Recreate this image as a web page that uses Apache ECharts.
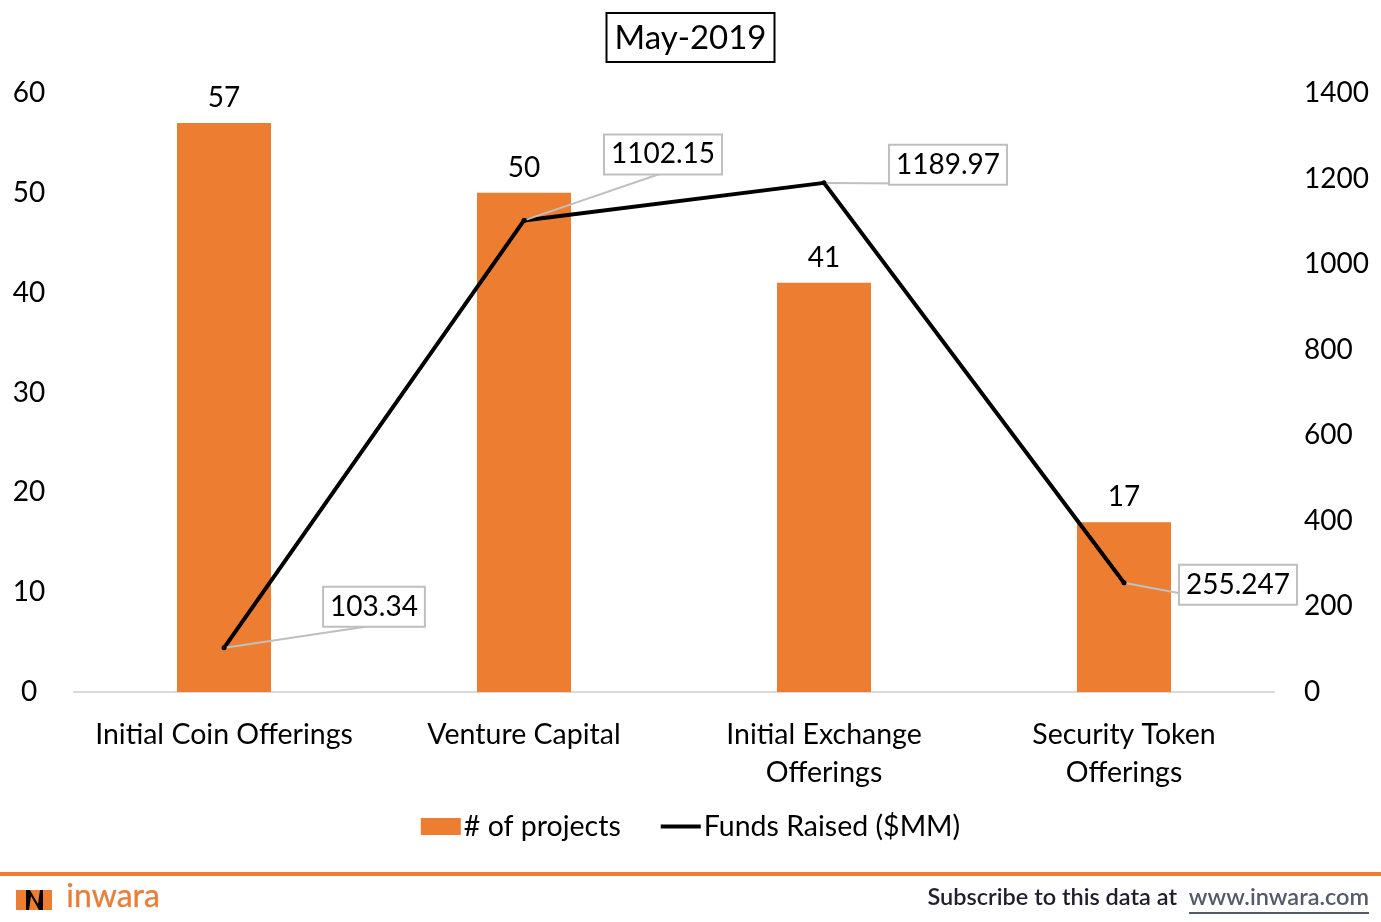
<!DOCTYPE html>
<html>
<head>
<meta charset="utf-8">
<script src="https://cdn.jsdelivr.net/npm/echarts@6/dist/echarts.min.js"></script>
<style>
  html, body { margin: 0; padding: 0; background: #fff; }
  #chart { width: 1381px; height: 922px; }
</style>
</head>
<body>
<div id="chart"></div>
<script>
const categories = ['Initial Coin Offerings', 'Venture Capital', 'Initial Exchange\nOfferings', 'Security Token\nOfferings'];
const projectCounts = [57, 50, 41, 17];
const fundsRaised = [103.34, 1102.15, 1189.97, 255.247];
const leftTicks = [0, 60, 10];
const rightTicks = [0, 1400, 200];

const FONT = 'Lato, "Open Sans", sans-serif';
const ORANGE = '#ED7D31';

// where each callout box sits relative to its point
const calloutOffsets = [[150, -41], [139, -66], [124, -18], [114, 2]];

const chart = echarts.init(document.getElementById('chart'));

const lineData = fundsRaised.map((v, i) => ({
  value: v,
  label: { offset: calloutOffsets[i] }
}));

chart.setOption({
  animation: false,
  backgroundColor: '#fff',
  textStyle: { fontFamily: FONT },
  title: {
    text: 'May-2019',
    left: 'center',
    top: 13,
    padding: [9, 8, 7, 8],
    borderColor: '#000',
    borderWidth: 2,
    textStyle: { fontFamily: FONT, fontSize: 33, fontWeight: 'normal', color: '#000' }
  },
  grid: { left: 74, right: 107, top: 93, bottom: 230 },
  legend: {
    bottom: 76,
    left: 'center',
    itemGap: 40,
    itemWidth: 40,
    itemHeight: 17,
    textStyle: { fontFamily: FONT, fontSize: 28.5, color: '#000', padding: [0, 0, 0, -2] },
    data: [
      { name: '# of projects', icon: 'rect' },
      { name: 'Funds Raised ($MM)', icon: 'path://M0,7 L40,7 L40,11 L0,11 Z' }
    ]
  },
  xAxis: {
    type: 'category',
    data: categories,
    axisLine: { lineStyle: { color: '#d9d9d9', width: 2 } },
    axisTick: { show: false },
    axisLabel: { interval: 0, fontSize: 28.5, color: '#000', margin: 24, lineHeight: 38, fontFamily: FONT }
  },
  yAxis: [
    {
      type: 'value',
      min: leftTicks[0], max: leftTicks[1], interval: leftTicks[2],
      splitLine: { show: false },
      axisLine: { show: false },
      axisLabel: { fontSize: 28, color: '#000', margin: 45, align: 'center', fontFamily: FONT }
    },
    {
      type: 'value',
      min: rightTicks[0], max: rightTicks[1], interval: rightTicks[2],
      splitLine: { show: false },
      axisLine: { show: false },
      axisLabel: { fontSize: 28, color: '#000', margin: 30, align: 'left', fontFamily: FONT, formatter: v => String(v) }
    }
  ],
  series: [
    {
      name: '# of projects',
      type: 'bar',
      data: projectCounts,
      barWidth: 94,
      itemStyle: { color: ORANGE },
      label: { show: true, position: 'top', distance: 11, fontSize: 28, color: '#000', fontFamily: FONT }
    },
    {
      name: 'Funds Raised ($MM)',
      type: 'line',
      yAxisIndex: 1,
      data: lineData,
      symbol: 'circle',
      symbolSize: 5,
      z: 5,
      lineStyle: { color: '#000', width: 4 },
      itemStyle: { color: '#000' },
      label: {
        show: true,
        position: 'inside',
        fontSize: 28,
        color: '#000',
        fontFamily: FONT,
        backgroundColor: '#fff',
        borderColor: '#bfbfbf',
        borderWidth: 2,
        padding: [6, 6, 4, 6]
      },
      labelLine: { show: true, lineStyle: { color: '#bfbfbf', width: 2 } }
    }
  ],
  graphic: [
    { type: 'rect', left: 0, top: 872, shape: { width: 1381, height: 4 }, style: { fill: ORANGE } },
    // logo mark
    { type: 'rect', left: 16, top: 890, shape: { width: 36, height: 20 }, style: { fill: ORANGE } },
    { type: 'polygon', shape: { points: [[26, 890], [30, 890], [38, 904], [40, 890], [43, 890], [43, 910], [39, 910], [31, 896], [29, 910], [26, 910]] }, style: { fill: '#000' } },
    { type: 'text', left: 66, top: 880, style: { text: 'inwara', font: '32px ' + FONT, fill: ORANGE, stroke: '#c8c8c8', lineWidth: 0.6 } },
    { type: 'text', right: 204, top: 885, style: { text: 'Subscribe to this data at', font: '600 23.5px ' + FONT, fill: '#1f1f2e' } },
    { type: 'text', right: 12, top: 885, style: { text: 'www.inwara.com', font: '600 23.5px ' + FONT, fill: '#555a6a' } },
    { type: 'rect', right: 12, top: 912, shape: { width: 180, height: 2 }, style: { fill: '#555a6a' } }
  ]
});
</script>
</body>
</html>
